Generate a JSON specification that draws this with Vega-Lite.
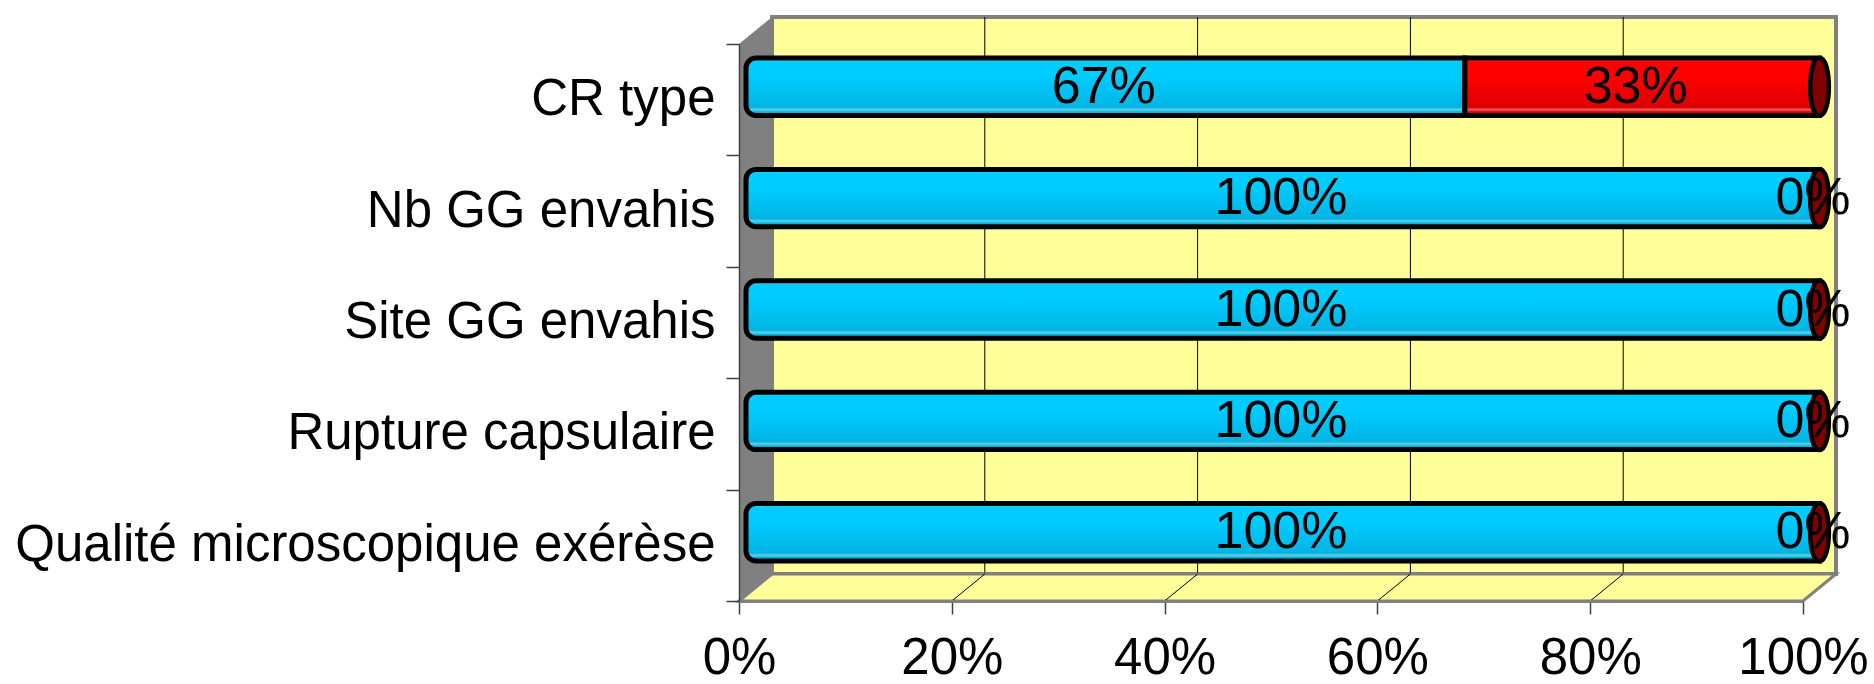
{
  "$schema": "https://vega.github.io/schema/vega-lite/v6.json",
  "width": 1097,
  "height": 584,
  "autosize": {"type": "none"},
  "padding": {"left": 739, "top": 17, "right": 38, "bottom": 83},
  "background": "white",
  "config": {"view": {"stroke": null}, "font": "Liberation Sans"},
  "datasets": {
    "resultats": [
      {"critere": "CR type", "groupe": "Conforme", "pct": 0.6667},
      {"critere": "CR type", "groupe": "Non conforme", "pct": 0.3333},
      {"critere": "Nb GG envahis", "groupe": "Conforme", "pct": 1},
      {"critere": "Nb GG envahis", "groupe": "Non conforme", "pct": 0},
      {"critere": "Site GG envahis", "groupe": "Conforme", "pct": 1},
      {"critere": "Site GG envahis", "groupe": "Non conforme", "pct": 0},
      {"critere": "Rupture capsulaire", "groupe": "Conforme", "pct": 1},
      {"critere": "Rupture capsulaire", "groupe": "Non conforme", "pct": 0},
      {"critere": "Qualité microscopique exérèse", "groupe": "Conforme", "pct": 1},
      {"critere": "Qualité microscopique exérèse", "groupe": "Non conforme", "pct": 0}
    ],
    "graduations": [{"v": 0.2}, {"v": 0.4}, {"v": 0.6}, {"v": 0.8}],
    "unique": [{}]
  },
  "layer": [
    {
      "layer": [
        {
          "data": {"name": "unique"},
          "mark": {"type": "rect", "fill": "#FFFF99", "stroke": "#808080", "strokeWidth": 4, "xOffset": 33, "x2Offset": 33, "yOffset": -27, "y2Offset": -27},
          "encoding": {
            "x": {"datum": 0, "type": "quantitative", "title": null},
            "x2": {"datum": 1},
            "y": {"datum": 0, "type": "quantitative", "scale": {"domain": [0, 5], "range": [584, 27], "nice": false, "zero": false}, "axis": null},
            "y2": {"datum": 5}
          }
        },
        {
          "data": {"name": "graduations"},
          "mark": {"type": "rule", "color": "black", "strokeWidth": 1, "xOffset": 33, "yOffset": -27, "y2Offset": -27},
          "encoding": {
            "x": {"field": "v", "type": "quantitative", "title": null},
            "y": {"datum": 0, "type": "quantitative"},
            "y2": {"datum": 5}
          }
        },
        {
          "data": {"name": "unique"},
          "mark": {"type": "point", "shape": "M-1,0.02461L0.93984,0.02461L1,-0.02461L-0.93984,-0.02461Z", "size": 1203409, "filled": true, "fill": "#FFFF99", "stroke": "#808080", "strokeWidth": 3, "opacity": 1, "xOffset": 16.5, "yOffset": -13.5},
          "encoding": {
            "x": {"datum": 0.5, "type": "quantitative"},
            "y": {"datum": 0, "type": "quantitative"}
          }
        },
        {
          "data": {"name": "graduations"},
          "mark": {"type": "rule", "color": "black", "strokeWidth": 1, "x2Offset": 33, "y2Offset": -27},
          "encoding": {
            "x": {"field": "v", "type": "quantitative"},
            "x2": {"field": "v"},
            "y": {"datum": 0, "type": "quantitative"},
            "y2": {"datum": 0}
          }
        },
        {
          "data": {"name": "unique"},
          "mark": {"type": "point", "shape": "M-0.0565,-0.9075L0.0565,-1L0.0565,0.9075L-0.0565,1Z", "size": 341056, "filled": true, "fill": "#808080", "strokeWidth": 0, "opacity": 1, "xOffset": 16.5, "yOffset": -13.5},
          "encoding": {
            "x": {"datum": 0, "type": "quantitative"},
            "y": {"datum": 2.5, "type": "quantitative"}
          }
        }
      ]
    },
    {
      "data": {"name": "resultats"},
      "encoding": {
        "y": {
          "field": "critere",
          "type": "nominal",
          "sort": ["CR type", "Nb GG envahis", "Site GG envahis", "Rupture capsulaire", "Qualité microscopique exérèse"],
          "scale": {"range": [27, 584], "paddingInner": 0, "paddingOuter": 0},
          "axis": {
            "orient": "left",
            "title": null,
            "labelFontSize": 51,
            "labelFont": "Liberation Sans",
            "labelColor": "black",
            "labelPadding": 11,
            "labelLimit": 0,
            "tickSize": 13,
            "tickColor": "#404040",
            "tickWidth": 1.5,
            "tickBand": "extent",
            "domainColor": "#404040",
            "domainWidth": 1.5,
            "zindex": 1
          }
        }
      },
      "layer": [
        {
          "transform": [
            {"stack": "pct", "groupby": ["critere"], "sort": [{"field": "groupe"}], "as": ["debut", "fin"]},
            {"filter": "datum.groupe === 'Conforme'"}
          ],
          "mark": {
            "type": "bar",
            "height": {"band": 0.515},
            "cornerRadiusTopLeft": 10,
            "cornerRadiusBottomLeft": 10,
            "stroke": "black",
            "strokeWidth": 5,
            "xOffset": 7,
            "x2Offset": 16.5,
            "yOffset": -13,
            "fill": {
              "gradient": "linear", "x1": 0, "y1": 0, "x2": 0, "y2": 1,
              "stops": [
                {"offset": 0, "color": "#6ADCF5"},
                {"offset": 0.07, "color": "#00CCFF"},
                {"offset": 0.3, "color": "#00CCFF"},
                {"offset": 0.5, "color": "#00C4F6"},
                {"offset": 0.7, "color": "#00BCEC"},
                {"offset": 0.86, "color": "#00B4E2"},
                {"offset": 0.9, "color": "#6ACDE0"},
                {"offset": 0.94, "color": "#00B4E2"},
                {"offset": 1, "color": "#00B4E2"}
              ]
            }
          },
          "encoding": {
            "x": {
              "field": "debut",
              "type": "quantitative",
              "title": null,
              "scale": {"domain": [0, 1], "range": [0, 1064], "nice": false, "zero": true},
              "axis": {
                "values": [0, 0.2, 0.4, 0.6, 0.8, 1],
                "format": ".0%",
                "title": null,
                "grid": false,
                "labelFontSize": 51,
                "labelFont": "Liberation Sans",
                "labelColor": "black",
                "labelPadding": 19,
                "labelFlush": false,
                "labelOverlap": false,
                "tickSize": 13,
                "tickColor": "#404040",
                "tickWidth": 1.5,
                "domainColor": "#808080",
                "domainWidth": 3,
                "zindex": 1
              }
            },
            "x2": {"field": "fin"}
          }
        },
        {
          "transform": [
            {"stack": "pct", "groupby": ["critere"], "sort": [{"field": "groupe"}], "as": ["debut", "fin"]},
            {"filter": "datum.groupe === 'Non conforme'"}
          ],
          "mark": {
            "type": "bar",
            "height": {"band": 0.515},
            "stroke": "black",
            "strokeWidth": 5,
            "xOffset": 16.5,
            "x2Offset": 16.5,
            "yOffset": -13,
            "fill": {
              "gradient": "linear", "x1": 0, "y1": 0, "x2": 0, "y2": 1,
              "stops": [
                {"offset": 0, "color": "#F06060"},
                {"offset": 0.07, "color": "#FF0000"},
                {"offset": 0.35, "color": "#FF0000"},
                {"offset": 0.6, "color": "#EE0000"},
                {"offset": 0.86, "color": "#DD0000"},
                {"offset": 0.9, "color": "#E86060"},
                {"offset": 0.94, "color": "#DD0000"},
                {"offset": 1, "color": "#DD0000"}
              ]
            }
          },
          "encoding": {
            "x": {"field": "debut", "type": "quantitative"},
            "x2": {"field": "fin"}
          }
        },
        {
          "transform": [{"filter": "datum.groupe === 'Non conforme'"}],
          "mark": {
            "type": "point",
            "shape": "M0,-1C0.43,-1 0.43,1 0,1C-0.43,1 -0.43,-1 0,-1Z",
            "size": 3364,
            "filled": true,
            "fill": "#800000",
            "stroke": "black",
            "strokeWidth": 4.5,
            "opacity": 1,
            "xOffset": 16.5,
            "yOffset": -13
          },
          "encoding": {
            "x": {"datum": 1, "type": "quantitative"}
          }
        },
        {
          "mark": {"type": "text", "fontSize": 52, "font": "Liberation Sans", "color": "black", "baseline": "middle", "xOffset": 10, "yOffset": -13},
          "encoding": {
            "x": {"field": "pct", "type": "quantitative", "stack": "zero", "bandPosition": 0.5},
            "detail": {"field": "groupe"},
            "order": {"field": "groupe", "sort": "ascending"},
            "text": {"field": "pct", "type": "quantitative", "format": ".0%"}
          }
        }
      ]
    }
  ],
  "resolve": {"scale": {"y": "independent"}, "axis": {"y": "independent"}}
}
